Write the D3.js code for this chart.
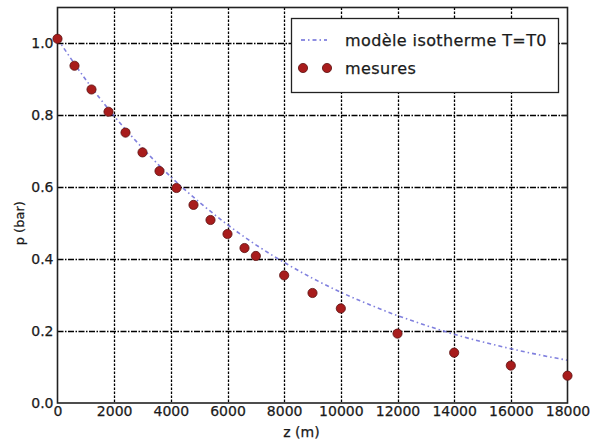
<!DOCTYPE html>
<html>
<head>
<meta charset="utf-8">
<script src="https://cdn.jsdelivr.net/npm/d3@7"></script>
<style>
  html, body { margin: 0; padding: 0; background: #fff; }
  svg text { font-family: "DejaVu Sans", sans-serif; fill: #1a1a1a; stroke: #1a1a1a; stroke-width: 0.25px; }
</style>
</head>
<body>
<svg id="chart" width="594" height="440"></svg>
<script>
// measured points
const measZ = [0, 600, 1200, 1800, 2400, 3000, 3600, 4200, 4800, 5400, 6000, 6600, 7000, 8000, 9000, 10000, 12000, 14000, 16000, 18000];
const measP = [1.013, 0.938, 0.872, 0.810, 0.752, 0.697, 0.645, 0.598, 0.551, 0.509, 0.470, 0.431, 0.409, 0.355, 0.306, 0.263, 0.193, 0.140, 0.104, 0.076];

// isothermal model curve
const modelZ = [0, 1000, 2000, 3000, 4000, 5000, 6000, 7000, 8000, 9000, 10000, 11000, 12000, 13000, 14000, 15000, 16000, 17000, 18000];
const modelP = [1.013, 0.899, 0.798, 0.709, 0.629, 0.559, 0.496, 0.440, 0.391, 0.347, 0.308, 0.274, 0.243, 0.216, 0.191, 0.170, 0.151, 0.134, 0.119];

const xTicks = [0, 2000, 4000, 6000, 8000, 10000, 12000, 14000, 16000, 18000];
const yTicks = [0.0, 0.2, 0.4, 0.6, 0.8, 1.0];

const legendLabels = ["modèle isotherme T=T0", "mesures"];

const svg = d3.select("#chart");
const mLeft = 57.5, mRight = 567.5, mTop = 7.5, mBottom = 403;

const x = d3.scaleLinear().domain([0, 18000]).range([mLeft, mRight]);
const y = d3.scaleLinear().domain([0, 1.1]).range([mBottom, mTop]);

// grid
const grid = svg.append("g");
grid.selectAll("line.vx").data(xTicks.slice(1, -1)).enter().append("line")
  .attr("x1", d => Math.round(x(d)) + 0.5).attr("x2", d => Math.round(x(d)) + 0.5)
  .attr("y1", mTop).attr("y2", mBottom)
  .attr("stroke", "#000").attr("stroke-width", 1.3).attr("stroke-dasharray", "2.5,1.5");
grid.selectAll("line.hy").data(yTicks.slice(1)).enter().append("line")
  .attr("y1", d => Math.round(y(d)) + 0.5).attr("y2", d => Math.round(y(d)) + 0.5)
  .attr("x1", mLeft).attr("x2", mRight)
  .attr("stroke", "#000").attr("stroke-width", 1.3).attr("stroke-dasharray", "6,1.5,1.5,1.5");

// model line
const line = d3.line().x((d, i) => x(modelZ[i])).y((d, i) => y(modelP[i])).curve(d3.curveMonotoneX);
svg.append("path").datum(modelP)
  .attr("d", line)
  .attr("fill", "none")
  .attr("stroke", "#6a6ad8")
  .attr("stroke-opacity", 0.85)
  .attr("stroke-width", 1.6)
  .attr("stroke-dasharray", "4,3,1.5,3");

// frame
svg.append("rect")
  .attr("x", mLeft).attr("y", mTop)
  .attr("width", mRight - mLeft).attr("height", mBottom - mTop)
  .attr("fill", "none").attr("stroke", "#222").attr("stroke-width", 1.6);

// axes ticks
const xAxis = d3.axisBottom(x).tickValues(xTicks).tickFormat(d3.format("d")).tickSize(0).tickPadding(3);
const gx = svg.append("g").attr("transform", `translate(0,${mBottom})`).call(xAxis);
gx.select(".domain").remove();
gx.selectAll("text").style("font-size", "14px").style("font-family", "DejaVu Sans").attr("fill", "#1a1a1a");

const yAxis = d3.axisLeft(y).tickValues(yTicks).tickFormat(d3.format(".1f")).tickSize(0).tickPadding(4);
const gy = svg.append("g").attr("transform", `translate(${mLeft},0)`).call(yAxis);
gy.select(".domain").remove();
gy.selectAll("text").style("font-size", "14px").style("font-family", "DejaVu Sans").attr("fill", "#1a1a1a");

// inner tick marks
svg.append("g").selectAll("line").data(yTicks.slice(1)).enter().append("line")
  .attr("x1", mRight - 6).attr("x2", mRight)
  .attr("y1", d => Math.round(y(d)) + 0.5).attr("y2", d => Math.round(y(d)) + 0.5)
  .attr("stroke", "#222").attr("stroke-width", 1.2);

// markers
svg.append("g").selectAll("circle").data(measP).enter().append("circle")
  .attr("cx", (d, i) => x(measZ[i]))
  .attr("cy", d => y(d))
  .attr("r", 4.6)
  .attr("fill", "#a81c1c")
  .attr("stroke", "#5a1010")
  .attr("stroke-width", 0.8);

// axis labels
svg.append("text").attr("x", (mLeft + mRight) / 2 - 11).attr("y", 437)
  .attr("text-anchor", "middle").style("font-size", "14px").text("z (m)");
svg.append("text").attr("transform", `translate(24,${(mTop + mBottom) / 2 + 18}) rotate(-90)`)
  .attr("text-anchor", "middle").style("font-size", "13px").text("p (bar)");

// legend
const lg = svg.append("g");
lg.append("rect").attr("x", 291.5).attr("y", 18.5).attr("width", 267).attr("height", 74)
  .attr("fill", "#fff").attr("stroke", "#222").attr("stroke-width", 1.3);
lg.append("line").attr("x1", 301).attr("x2", 327).attr("y1", 40).attr("y2", 40)
  .attr("stroke", "#6a6ad8").attr("stroke-width", 1.6).attr("stroke-dasharray", "4,3,1.5,3");
lg.append("text").attr("x", 345).attr("y", 45.5).style("font-size", "16px").style("letter-spacing", "0.4px").text(legendLabels[0]);
lg.selectAll("circle").data([303, 327]).enter().append("circle")
  .attr("cx", d => d).attr("cy", 68).attr("r", 4.6)
  .attr("fill", "#a81c1c").attr("stroke", "#5a1010").attr("stroke-width", 0.8);
lg.append("text").attr("x", 345).attr("y", 74).style("font-size", "16px").style("letter-spacing", "0.4px").text(legendLabels[1]);
</script>
</body>
</html>
